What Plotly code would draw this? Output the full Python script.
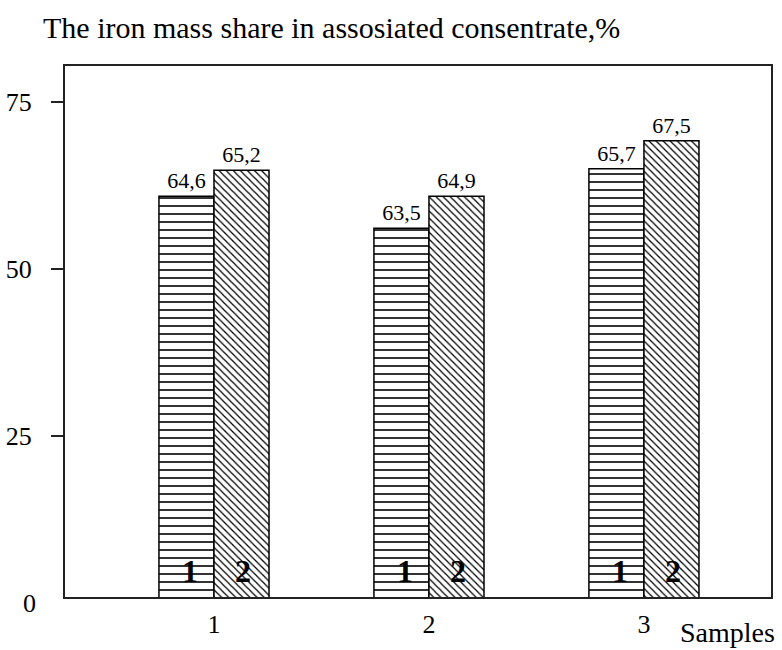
import plotly.graph_objects as go

# Data
categories = ["1", "2", "3"]
series1_heights = [60.9, 56.1, 65.0]   # drawn bar heights (series 1)
series2_heights = [64.8, 60.9, 69.2]   # drawn bar heights (series 2)
series1_labels = ["64,6", "63,5", "65,7"]
series2_labels = ["65,2", "64,9", "67,5"]
series_names = ["1", "2"]
y_tick_vals = [0, 25, 50, 75]
y_tick_text = ["0", "25", "50", "75"]

title_text = "The iron mass share in assosiated consentrate,%"
x_title_text = "Samples"

SERIF = "Liberation Serif, Times New Roman, serif"
Y_MIN, Y_MAX = 0.9, 80.4

fig = go.Figure()
fig.add_trace(go.Bar(
    x=categories, y=series1_heights, name=series_names[0],
    text=series1_labels, textposition="outside", cliponaxis=False,
    textfont=dict(family=SERIF, size=22, color="black"),
    marker=dict(color="white",
                line=dict(color="black", width=1.5),
                pattern=dict(shape="-", fgcolor="black", bgcolor="white",
                             size=8, solidity=0.2, fillmode="replace")),
))
fig.add_trace(go.Bar(
    x=categories, y=series2_heights, name=series_names[1],
    text=series2_labels, textposition="outside", cliponaxis=False,
    textfont=dict(family=SERIF, size=22, color="black"),
    marker=dict(color="white",
                line=dict(color="black", width=1.5),
                pattern=dict(shape="\\", fgcolor="black", bgcolor="white",
                             size=5, solidity=0.25, fillmode="replace")),
))

annotations = []
# series numbers inside bars near the bottom
shifts = [-24, 29]
for i, cat in enumerate(categories):
    for name, xs in zip(series_names, shifts):
        annotations.append(dict(
            x=i, y=0, xref="x", yref="paper", text="<b>%s</b>" % name,
            showarrow=False, xshift=xs, yshift=6, yanchor="bottom",
            font=dict(family=SERIF, size=32, color="black"),
        ))
# zero label (sits slightly below the frame bottom in the reference)
annotations.append(dict(
    x=0, y=0, xref="paper", yref="paper", text=y_tick_text[0],
    showarrow=False, xanchor="right", yanchor="middle", xshift=-27, yshift=-6,
    font=dict(family=SERIF, size=26, color="black"),
))
# x axis title
annotations.append(dict(
    x=1, y=0, xref="paper", yref="paper", text=x_title_text,
    showarrow=False, xanchor="right", yanchor="middle", xshift=6, yshift=-35,
    font=dict(family=SERIF, size=28, color="black"),
))

fig.update_layout(
    width=782, height=650,
    margin=dict(l=65, r=11, t=66, b=53, autoexpand=False),
    paper_bgcolor="white", plot_bgcolor="white",
    barmode="group", bargap=0.488, bargroupgap=0,
    showlegend=False,
    title=dict(text=title_text, xref="container", yref="container",
               x=43 / 782, xanchor="left", y=1 - 27 / 650, yanchor="middle",
               font=dict(family=SERIF, size=30, color="black")),
    annotations=annotations,
    font=dict(family=SERIF, color="black"),
)
fig.update_xaxes(
    type="category", range=[-0.693, 2.591],
    showline=True, mirror=True, linecolor="#222", linewidth=2,
    ticks="", showgrid=False, zeroline=False,
    tickfont=dict(family=SERIF, size=26, color="black"),
    ticklabelstandoff=3,
)
fig.update_yaxes(
    range=[Y_MIN, Y_MAX],
    tickvals=y_tick_vals[1:], ticktext=y_tick_text[1:],
    showline=True, mirror=True, linecolor="#222", linewidth=2,
    ticks="outside", ticklen=12, tickwidth=2, tickcolor="#222",
    showgrid=False, zeroline=False,
    tickfont=dict(family=SERIF, size=26, color="black"),
    ticklabelstandoff=14,
)

fig.write_html("out.html", config={"displayModeBar": False},
               post_script="document.body.style.margin='0';")
